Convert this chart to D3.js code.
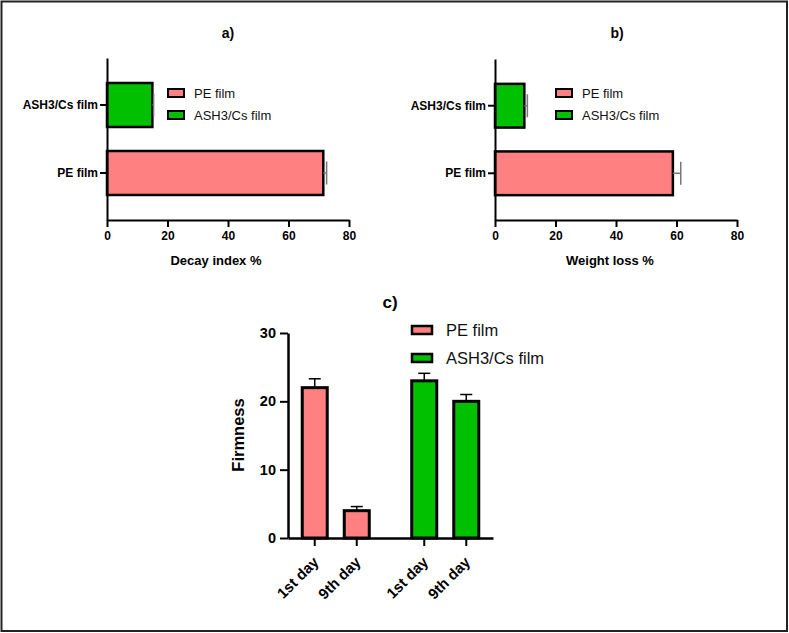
<!DOCTYPE html>
<html>
<head>
<meta charset="utf-8">
<script src="https://cdn.jsdelivr.net/npm/d3@7"></script>
<style>
  html, body { margin: 0; padding: 0; background: #fff; }
  svg { display: block; font-family: "Liberation Sans", Arial, sans-serif; }
</style>
</head>
<body>
<div id="chart"></div>
<script>
// data
const films = ["ASH3/Cs film", "PE film"]
const legendFilms = ["PE film", "ASH3/Cs film"]
const decayValues = [15, 71.5]
const decayErrors = [0.4, 1.1]
const weightValues = [9.7, 58.8]
const weightErrors = [1.0, 2.6]
const percentTicks = [0, 20, 40, 60, 80]

const days = ["1st day", "9th day"]
const firmPE = [22, 4]
const firmPEErr = [1.3, 0.6]
const firmASH = [23, 20]
const firmASHErr = [1.1, 1.0]
const firmTicks = [0, 10, 20, 30]

const colors = { "PE film": "#ff8080", "ASH3/Cs film": "#00c000" }

const width = 789
const height = 633

const svg = d3.select("#chart").append("svg")
    .attr("width", width)
    .attr("height", height)

svg.append("rect")
    .attr("x", 1.5).attr("y", 1.5)
    .attr("width", width - 3.5).attr("height", height - 3.5)
    .attr("fill", "none").attr("stroke", "#222").attr("stroke-width", 2)

// horizontal bar panel (a, b)
function hbarPanel(opt) {
    const x = d3.scaleLinear().domain([0, 80]).range([opt.x0, opt.x1])
    const y = d3.scaleBand().domain(films).range([opt.y0, opt.y1])
        .paddingInner(0.353).paddingOuter(0.368)
    const g = svg.append("g")

    g.selectAll("rect.bar")
        .data(films)
        .join("rect")
        .attr("class", "bar")
        .attr("x", x(0))
        .attr("y", d => y(d))
        .attr("width", (d, i) => x(opt.values[i]) - x(0))
        .attr("height", y.bandwidth())
        .attr("fill", d => colors[d])
        .attr("stroke", "#000")
        .attr("stroke-width", 2.5)

    // error bars (upper side only)
    const err = g.append("g").attr("stroke", "#777").attr("stroke-width", 1.5)
    films.forEach((d, i) => {
        const cy = y(d) + y.bandwidth() / 2
        const xe = x(opt.values[i] + opt.errors[i])
        err.append("line").attr("x1", x(opt.values[i])).attr("x2", xe).attr("y1", cy).attr("y2", cy)
        err.append("line").attr("x1", xe).attr("x2", xe).attr("y1", cy - 11.5).attr("y2", cy + 11.5)
    })

    const xAxis = g.append("g")
        .attr("transform", `translate(0,${opt.y1})`)
        .call(d3.axisBottom(x).tickValues(percentTicks).tickSize(7).tickPadding(4).tickSizeOuter(0))
    const yAxis = g.append("g")
        .attr("transform", `translate(${opt.x0},0)`)
        .call(d3.axisLeft(y).tickSize(7).tickPadding(2).tickSizeOuter(0))
    ;[xAxis, yAxis].forEach(a => {
        a.select(".domain").attr("stroke", "#000").attr("stroke-width", 2)
        a.selectAll(".tick line").attr("stroke", "#000").attr("stroke-width", 2)
        a.selectAll("text")
            .attr("fill", "#000")
            .attr("font-family", "Liberation Sans, Arial, sans-serif")
            .attr("font-weight", "bold")
            .attr("font-size", 12)
    })

    g.append("text")
        .attr("x", opt.titleX).attr("y", 38)
        .attr("text-anchor", "middle")
        .attr("font-weight", "bold").attr("font-size", 14)
        .text(opt.title)

    g.append("text")
        .attr("x", opt.labelX).attr("y", 265)
        .attr("text-anchor", "middle")
        .attr("font-weight", "bold").attr("font-size", 13)
        .text(opt.label)

    const leg = g.append("g").attr("transform", `translate(${opt.x0 + 61},89)`)
    legendFilms.forEach((d, i) => {
        leg.append("rect")
            .attr("x", 0).attr("y", i * 22)
            .attr("width", 16).attr("height", 8)
            .attr("fill", colors[d]).attr("stroke", "#000").attr("stroke-width", 2)
        leg.append("text")
            .attr("x", 26).attr("y", i * 22 + 8.5)
            .attr("font-size", 13).attr("fill", "#111")
            .text(d)
    })
}

hbarPanel({ x0: 107, x1: 349, y0: 58, y1: 220, values: decayValues, errors: decayErrors,
    title: "a)", titleX: 228, label: "Decay index %", labelX: 216 })
hbarPanel({ x0: 495, x1: 737, y0: 59, y1: 220, values: weightValues, errors: weightErrors,
    title: "b)", titleX: 617, label: "Weight loss %", labelX: 610 })

// panel c: grouped vertical bars
const cx0 = 288, cx1 = 493, cy0 = 538
const yC = d3.scaleLinear().domain([0, 30]).range([cy0, 333])
const groups = d3.scaleBand().domain(legendFilms).range([cx0, cx1]).paddingInner(0.2).paddingOuter(0.036)
const inner = d3.scaleBand().domain(days).range([0, groups.bandwidth()]).paddingInner(0.405).paddingOuter(0.245)

const firmRows = []
days.forEach((d, i) => firmRows.push({ film: "PE film", day: d, v: firmPE[i], e: firmPEErr[i] }))
days.forEach((d, i) => firmRows.push({ film: "ASH3/Cs film", day: d, v: firmASH[i], e: firmASHErr[i] }))

const gc = svg.append("g")

gc.selectAll("rect.bar")
    .data(firmRows)
    .join("rect")
    .attr("x", d => groups(d.film) + inner(d.day))
    .attr("y", d => yC(d.v))
    .attr("width", inner.bandwidth())
    .attr("height", d => yC(0) - yC(d.v))
    .attr("fill", d => colors[d.film])
    .attr("stroke", "#000")
    .attr("stroke-width", 3)

const errC = gc.append("g").attr("stroke", "#000").attr("stroke-width", 1.5)
firmRows.forEach(d => {
    const mx = groups(d.film) + inner(d.day) + inner.bandwidth() / 2
    const ye = yC(d.v + d.e)
    errC.append("line").attr("x1", mx).attr("x2", mx).attr("y1", yC(d.v)).attr("y2", ye)
    errC.append("line").attr("x1", mx - 6).attr("x2", mx + 6).attr("y1", ye).attr("y2", ye)
})

const yAxisC = gc.append("g")
    .attr("transform", `translate(${cx0},0)`)
    .call(d3.axisLeft(yC).tickValues(firmTicks).tickSize(8).tickPadding(4).tickSizeOuter(0))
const xAxisC = gc.append("g")
    .attr("transform", `translate(0,${cy0})`)
    .call(d3.axisBottom(d3.scaleLinear().range([cx0, cx1])).tickValues([]).tickSizeOuter(0))

// category ticks under each bar
firmRows.forEach(d => {
    const mx = groups(d.film) + inner(d.day) + inner.bandwidth() / 2
    xAxisC.append("line").attr("x1", mx).attr("x2", mx).attr("y1", 0).attr("y2", 8)
        .attr("stroke", "#000").attr("stroke-width", 2)
    xAxisC.append("text")
        .attr("transform", `translate(${mx + 5},${25}) rotate(-45)`)
        .attr("text-anchor", "end")
        .attr("font-weight", "bold").attr("font-size", 15)
        .attr("fill", "#000")
        .text(d.day)
})

;[yAxisC, xAxisC].forEach(a => {
    a.select(".domain").attr("stroke", "#000").attr("stroke-width", 2.5)
    a.selectAll(".tick line").attr("stroke", "#000").attr("stroke-width", 2)
})
yAxisC.selectAll("text")
    .attr("fill", "#000")
    .attr("font-family", "Liberation Sans, Arial, sans-serif")
    .attr("font-weight", "bold")
    .attr("font-size", 14.5)

gc.append("text")
    .attr("transform", `translate(244,435) rotate(-90)`)
    .attr("text-anchor", "middle")
    .attr("font-weight", "bold").attr("font-size", 16.5)
    .text("Firmness")

gc.append("text")
    .attr("x", 390).attr("y", 308)
    .attr("text-anchor", "middle")
    .attr("font-weight", "bold").attr("font-size", 17)
    .text("c)")

const legC = gc.append("g").attr("transform", "translate(412,326)")
legendFilms.forEach((d, i) => {
    legC.append("rect")
        .attr("x", 0).attr("y", i * 28)
        .attr("width", 20).attr("height", 8)
        .attr("fill", colors[d]).attr("stroke", "#000").attr("stroke-width", 2.5)
    legC.append("text")
        .attr("x", 34).attr("y", i * 28 + 10)
        .attr("font-size", 16.5).attr("fill", "#111")
        .text(d)
})
</script>
</body>
</html>
